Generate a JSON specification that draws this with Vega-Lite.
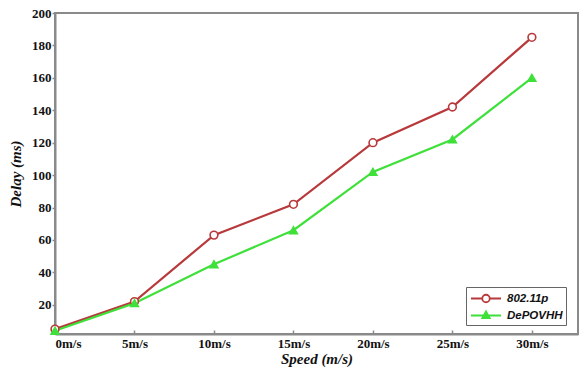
{
  "$schema": "https://vega.github.io/schema/vega-lite/v6.json",
  "width": 523,
  "height": 321,
  "autosize": {"type": "none"},
  "padding": {"left": 55, "top": 13, "right": 1, "bottom": 44},
  "background": "white",
  "config": {
    "view": {"stroke": "#8a8a8a", "strokeWidth": 2},
    "font": "Liberation Serif"
  },
  "data": {
    "values": [
      {"speed": 0, "series": "802.11p", "delay": 5},
      {"speed": 5, "series": "802.11p", "delay": 22},
      {"speed": 10, "series": "802.11p", "delay": 63},
      {"speed": 15, "series": "802.11p", "delay": 82},
      {"speed": 20, "series": "802.11p", "delay": 120},
      {"speed": 25, "series": "802.11p", "delay": 142},
      {"speed": 30, "series": "802.11p", "delay": 185},
      {"speed": 0, "series": "DePOVHH", "delay": 4},
      {"speed": 5, "series": "DePOVHH", "delay": 21},
      {"speed": 10, "series": "DePOVHH", "delay": 45},
      {"speed": 15, "series": "DePOVHH", "delay": 66},
      {"speed": 20, "series": "DePOVHH", "delay": 102},
      {"speed": 25, "series": "DePOVHH", "delay": 122},
      {"speed": 30, "series": "DePOVHH", "delay": 160}
    ]
  },
  "encoding": {
    "x": {
      "field": "speed", "type": "quantitative",
      "scale": {"domain": [0, 32.9], "nice": false, "zero": false},
      "axis": {
        "values": [0, 5, 10, 15, 20, 25, 30],
        "labelExpr": "datum.value + 'm/s'",
        "title": "Speed (m/s)",
        "titleFont": "Liberation Serif", "titleFontStyle": "italic", "titleFontWeight": "bold", "titleFontSize": 15, "titleColor": "#111",
        "titlePadding": 1,
        "labelFont": "Liberation Serif", "labelFontWeight": "bold", "labelFontSize": 13, "labelColor": "#111",
        "labelPadding": 7,
        "grid": false, "domainColor": "#8a8a8a", "domainWidth": 2,
        "tickColor": "#8a8a8a", "tickSize": -4, "tickWidth": 1.5
      }
    },
    "y": {
      "field": "delay", "type": "quantitative",
      "scale": {"domain": [2, 200], "nice": false, "zero": false},
      "axis": {
        "values": [20, 40, 60, 80, 100, 120, 140, 160, 180, 200],
        "title": "Delay (ms)",
        "titleFont": "Liberation Serif", "titleFontStyle": "italic", "titleFontWeight": "bold", "titleFontSize": 15, "titleColor": "#111",
        "titlePadding": 8,
        "labelFont": "Liberation Serif", "labelFontWeight": "bold", "labelFontSize": 13, "labelColor": "#111",
        "labelPadding": 1,
        "grid": false, "domainColor": "#8a8a8a", "domainWidth": 2,
        "tickColor": "#8a8a8a", "tickSize": 3, "tickWidth": 1.5
      }
    }
  },
  "layer": [
    {
      "mark": {"type": "line", "strokeWidth": 2.2},
      "encoding": {
        "color": {
          "field": "series", "type": "nominal",
          "scale": {"domain": ["802.11p", "DePOVHH"], "range": ["#b8393b", "#3fe03a"]},
          "legend": null
        }
      }
    },
    {
      "mark": {"type": "point", "size": 60, "strokeWidth": 1.6, "filled": false, "opacity": 1},
      "encoding": {
        "color": {
          "field": "series", "type": "nominal",
          "scale": {"domain": ["802.11p", "DePOVHH"], "range": ["#b8393b", "#3fe03a"]},
          "legend": null
        },
        "shape": {
          "field": "series", "type": "nominal",
          "scale": {"domain": ["802.11p", "DePOVHH"], "range": ["circle", "triangle-up"]},
          "legend": null
        },
        "fill": {
          "field": "series", "type": "nominal",
          "scale": {"domain": ["802.11p", "DePOVHH"], "range": ["#ffffff", "#3fe03a"]},
          "legend": null
        }
      }
    },
    {
      "transform": [{"filter": "datum.speed < 0"}],
      "mark": {"type": "point", "filled": true, "strokeWidth": 1.8, "opacity": 1},
      "encoding": {
        "shape": {
          "field": "series", "type": "nominal",
          "scale": {"domain": ["802.11p", "DePOVHH"], "range": [
            "M -2 0 H -0.5 M 0.5 0 H 2 M -0.5 0 A 0.5 0.5 0 1 1 0.5 0 A 0.5 0.5 0 1 1 -0.5 0",
            "M -2 0 H 2 M 0 -0.55 L 0.5 0.35 L -0.5 0.35 Z"
          ]},
          "legend": {
            "title": null, "orient": "none", "legendX": 411, "legendY": 274,
            "strokeColor": "#666", "fillColor": "white", "padding": 3,
            "symbolSize": 225, "symbolStrokeWidth": 1.8, "rowPadding": 1,
            "symbolOffset": 8.5, "labelOffset": 12.5,
            "labelFont": "Liberation Sans", "labelFontStyle": "italic", "labelFontWeight": "bold", "labelFontSize": 11.5, "labelColor": "#111"
          }
        },
        "stroke": {
          "field": "series", "type": "nominal",
          "scale": {"domain": ["802.11p", "DePOVHH"], "range": ["#b8393b", "#3fe03a"]},
          "legend": {
            "title": null, "orient": "none", "legendX": 411, "legendY": 274,
            "strokeColor": "#666", "fillColor": "white", "padding": 3,
            "symbolSize": 225, "symbolStrokeWidth": 1.8, "rowPadding": 1,
            "symbolOffset": 8.5, "labelOffset": 12.5,
            "labelFont": "Liberation Sans", "labelFontStyle": "italic", "labelFontWeight": "bold", "labelFontSize": 11.5, "labelColor": "#111"
          }
        },
        "fill": {
          "field": "series", "type": "nominal",
          "scale": {"domain": ["802.11p", "DePOVHH"], "range": ["#ffffff", "#3fe03a"]},
          "legend": {
            "title": null, "orient": "none", "legendX": 411, "legendY": 274,
            "strokeColor": "#666", "fillColor": "white", "padding": 3,
            "symbolSize": 225, "symbolStrokeWidth": 1.8, "rowPadding": 1,
            "symbolOffset": 8.5, "labelOffset": 12.5,
            "labelFont": "Liberation Sans", "labelFontStyle": "italic", "labelFontWeight": "bold", "labelFontSize": 11.5, "labelColor": "#111"
          }
        }
      }
    }
  ],
  "resolve": {"scale": {"shape": "independent", "fill": "independent", "color": "independent", "stroke": "independent"}}
}
